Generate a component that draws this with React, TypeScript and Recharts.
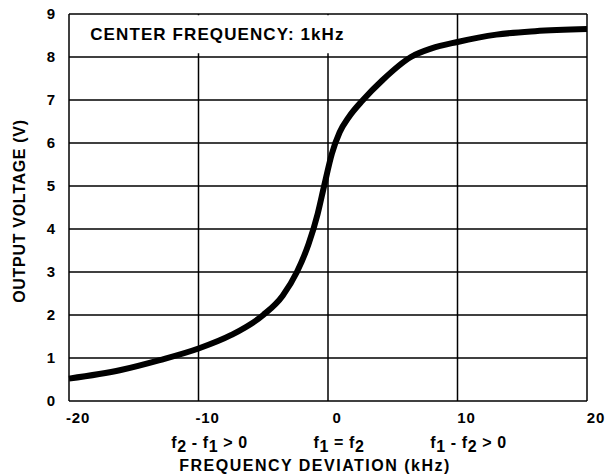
import { CartesianGrid, Line, LineChart, ReferenceArea, XAxis, YAxis } from "recharts";

const deviation = [-20, -16, -13, -10, -7.5, -5, -3.5, -2.4, -1.5, -0.8, -0.3, 0.3, 0.9, 1.6, 2.7, 4.2, 6.4, 8, 10, 13, 16, 20];
const voltage = [0.52, 0.72, 0.95, 1.22, 1.53, 2.0, 2.45, 3.0, 3.65, 4.35, 5.0, 5.75, 6.25, 6.6, 7.0, 7.46, 8.0, 8.2, 8.35, 8.52, 8.6, 8.65];

const xTicks = [-20, -10, 0, 10, 20];
const yTicks = [0, 1, 2, 3, 4, 5, 6, 7, 8, 9];
// text under the numbers; "_" marks a subscript digit
const xSubLabels: Record<number, string> = { [-10]: "f_2 - f_1 > 0", 0: "f_1 = f_2", 10: "f_1 - f_2 > 0" };

const noteText = "CENTER FREQUENCY: 1kHz";
const xTitle = "FREQUENCY DEVIATION (kHz)";
const yTitle = "OUTPUT VOLTAGE (V)";

const data = deviation.map((x, i) => ({ x, v: voltage[i] }));

const font = "'Liberation Sans', Arial, sans-serif";

function subParts(label: string) {
  const out: { text: string; sub: boolean }[] = [];
  label.split("_").forEach((bit, i) => {
    if (i === 0) {
      out.push({ text: bit, sub: false });
    } else {
      out.push({ text: bit[0], sub: true });
      if (bit.length > 1) out.push({ text: bit.slice(1), sub: false });
    }
  });
  return out;
}

function XTick(props: any) {
  const { x, y, payload } = props;
  const sub = xSubLabels[payload.value];
  return (
    <g fontFamily={font} fontWeight="bold" fill="#000">
      <text x={x + 9} y={y + 14} textAnchor="middle" fontSize={15} letterSpacing={0.8}>
        {payload.value}
      </text>
      {sub && (
        <text x={x + 11} y={y + 39} textAnchor="middle" fontSize={16} letterSpacing={0.6}>
          {subParts(sub).map((p, i, arr) => {
            const prevSub = i > 0 && arr[i - 1].sub;
            const dy = p.sub ? 4 : prevSub ? -4 : 0;
            return (
              <tspan key={i} dy={dy}>
                {p.text}
              </tspan>
            );
          })}
        </text>
      )}
    </g>
  );
}

export default function App() {
  return (
    <div style={{ position: "absolute", left: 0, top: 0, width: 611, height: 476, background: "#fff", fontFamily: font }}>
      <LineChart width={611} height={476} data={data} margin={{ top: 14, right: 24, bottom: 0, left: 29 }}>
        <CartesianGrid stroke="#000" strokeWidth={1.5} />
        <XAxis
          dataKey="x"
          type="number"
          domain={[-20, 20]}
          ticks={xTicks}
          axisLine={false}
          tickLine={false}
          height={75}
          tick={<XTick />}
        />
        <YAxis
          type="number"
          domain={[0, 9]}
          ticks={yTicks}
          axisLine={false}
          tickLine={false}
          width={40}
          tickMargin={8}
          tick={{ fill: "#000", fontSize: 15, fontWeight: "bold" }}
        />
        <text x={315} y={471} textAnchor="middle" fontSize={16} fontWeight="bold" fill="#000" letterSpacing={1.5}>
          {xTitle}
        </text>
        <text
          x={19}
          y={211}
          transform="rotate(-90 19 211)"
          textAnchor="middle"
          dominantBaseline="central"
          fontSize={16}
          fontWeight="bold"
          fill="#000"
          letterSpacing={0.7}
        >
          {yTitle}
        </text>
        <ReferenceArea
          x1={-19.75}
          x2={1.5}
          y1={8.09}
          y2={8.97}
          fill="#fff"
          fillOpacity={1}
          stroke="none"
          label={{ value: noteText, position: "insideLeft", offset: 18, fill: "#000", fontSize: 17, fontWeight: "bold", letterSpacing: 1.1 }}
        />
        <Line type="monotone" dataKey="v" stroke="#000" strokeWidth={6} dot={false} isAnimationActive={false} />
      </LineChart>
    </div>
  );
}
